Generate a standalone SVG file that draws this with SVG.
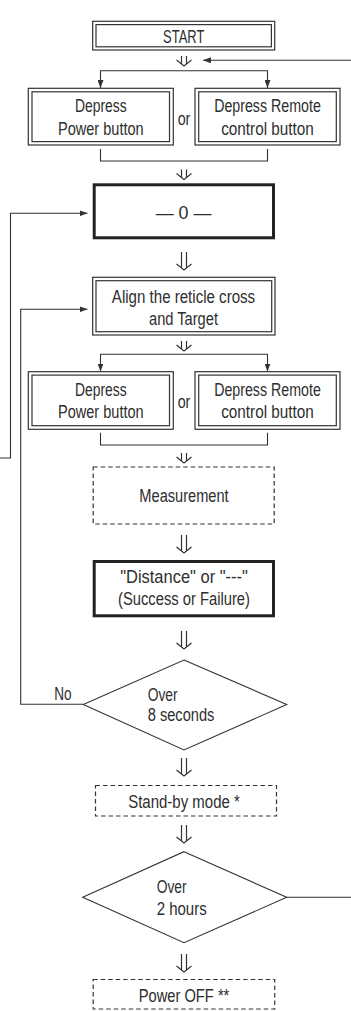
<svg xmlns="http://www.w3.org/2000/svg" xmlns:xlink="http://www.w3.org/1999/xlink" width="351" height="1011" viewBox="0 0 351 1011">
<style>
.bx{fill:#fff;stroke:#333;stroke-width:1.2}
.thick{fill:#fff;stroke:#222;stroke-width:3}
.dash{fill:#fff;stroke:#333;stroke-width:1.2;stroke-dasharray:4.5 3}
.dia{fill:#fff;stroke:#333;stroke-width:1.1}
.ln{fill:none;stroke:#333;stroke-width:1.1}
.dar{fill:none;stroke:#333;stroke-width:1.2}
text{font-family:"Liberation Sans",Arial,sans-serif;font-size:17.5px;fill:#2e2e2e}
.c{text-anchor:middle}
</style>
<defs>
<marker id="ah" viewBox="0 0 8 6" refX="8" refY="3" markerWidth="8" markerHeight="6" markerUnits="userSpaceOnUse" orient="auto">
<path d="M0,0 L8,3 L0,6 Z" fill="#333"/>
</marker>
<path id="ds" d="M-2.5,0V8 M2.5,0V8 M-7.5,4 L0,10 L7.5,4"/>
<path id="dl" d="M-2.5,0V16 M2.5,0V16 M-7.5,12 L0,18 L7.5,12"/>
</defs>

<g id="connectors">
<use xlink:href="#ds" class="dar" x="184" y="56"/>
<use xlink:href="#ds" class="dar" x="184" y="169.5"/>
<use xlink:href="#dl" class="dar" x="184" y="252"/>
<use xlink:href="#ds" class="dar" x="184" y="341"/>
<use xlink:href="#ds" class="dar" x="184" y="453"/>
<use xlink:href="#dl" class="dar" x="184" y="535"/>
<use xlink:href="#dl" class="dar" x="184" y="631"/>
<use xlink:href="#dl" class="dar" x="184" y="758"/>
<use xlink:href="#dl" class="dar" x="184" y="825"/>
<use xlink:href="#dl" class="dar" x="184" y="954"/>
<path class="ln" d="M184,70.7 H100.5 V88" marker-end="url(#ah)"/>
<path class="ln" d="M184,70.7 H267.5 V88" marker-end="url(#ah)"/>
<path class="ln" d="M100.5,149 V161 H267.5 V149"/>
<path class="ln" d="M184,354.3 H100.5 V371.5" marker-end="url(#ah)"/>
<path class="ln" d="M184,354.3 H267.5 V371.5" marker-end="url(#ah)"/>
<path class="ln" d="M100.5,432.7 V445 H267.5 V432.7"/>
<path class="ln" d="M-2,458 H10.5 V213.3 H87.5" marker-end="url(#ah)"/>
<path class="ln" d="M83.3,704.3 H20.7 V309.3 H87.5" marker-end="url(#ah)"/>
<path class="ln" d="M286.7,897.3 H353 V60.3 H203" marker-end="url(#ah)"/>
<text x="63" y="700" class="c" textLength="17.3" lengthAdjust="spacingAndGlyphs">No</text>
</g>

<g id="start">
<rect class="bx" x="92.7" y="21.3" width="182" height="28.7"/>
<rect class="bx" x="96" y="24.6" width="175.4" height="22.2"/>
<text x="183.7" y="42.5" class="c" textLength="41.3" lengthAdjust="spacingAndGlyphs">START</text>
</g>

<g id="power1">
<rect class="bx" x="28.3" y="88.3" width="145" height="56.7"/>
<rect class="bx" x="32" y="91.8" width="137.5" height="49.8"/>
<text x="100.8" y="112" class="c" textLength="51.7" lengthAdjust="spacingAndGlyphs">Depress</text>
<text x="100.8" y="135" class="c" textLength="85.7" lengthAdjust="spacingAndGlyphs">Power button</text>
</g>
<g id="or1">
<text x="184" y="125" class="c" style="font-size:18.5px" textLength="12.7" lengthAdjust="spacingAndGlyphs">or</text>
</g>
<g id="remote1">
<rect class="bx" x="195" y="88.3" width="145" height="56.7"/>
<rect class="bx" x="198.7" y="91.8" width="137.6" height="49.8"/>
<text x="267.5" y="112" class="c" textLength="106.7" lengthAdjust="spacingAndGlyphs">Depress Remote</text>
<text x="267.5" y="135" class="c" textLength="92.7" lengthAdjust="spacingAndGlyphs">control button</text>
</g>

<g id="zero">
<rect class="thick" x="94.2" y="184.8" width="179.3" height="53"/>
<text x="183.5" y="219" class="c" textLength="55.7" lengthAdjust="spacingAndGlyphs">— 0 —</text>
</g>

<g id="align">
<rect class="bx" x="92.7" y="277.3" width="182.3" height="57.7"/>
<rect class="bx" x="96" y="280.7" width="175.7" height="51"/>
<text x="183.5" y="303.3" class="c" textLength="143.3" lengthAdjust="spacingAndGlyphs">Align the reticle cross</text>
<text x="183.5" y="325" class="c" textLength="69" lengthAdjust="spacingAndGlyphs">and Target</text>
</g>

<g id="power2">
<rect class="bx" x="28.3" y="371.7" width="145" height="57.6"/>
<rect class="bx" x="32" y="375.1" width="137.5" height="50.6"/>
<text x="100.8" y="396" class="c" textLength="51.7" lengthAdjust="spacingAndGlyphs">Depress</text>
<text x="100.8" y="418.3" class="c" textLength="85.7" lengthAdjust="spacingAndGlyphs">Power button</text>
</g>
<g id="or2">
<text x="184" y="408" class="c" style="font-size:18.5px" textLength="12.7" lengthAdjust="spacingAndGlyphs">or</text>
</g>
<g id="remote2">
<rect class="bx" x="195" y="371.7" width="145" height="57.6"/>
<rect class="bx" x="198.7" y="375.1" width="137.6" height="50.6"/>
<text x="267.5" y="396" class="c" textLength="106.7" lengthAdjust="spacingAndGlyphs">Depress Remote</text>
<text x="267.5" y="418.3" class="c" textLength="92.7" lengthAdjust="spacingAndGlyphs">control button</text>
</g>

<g id="measurement">
<rect class="dash" x="93.2" y="467" width="181" height="57"/>
<text x="184" y="501.7" class="c" textLength="89.3" lengthAdjust="spacingAndGlyphs">Measurement</text>
</g>

<g id="distance">
<rect class="thick" x="94.2" y="561.5" width="179.3" height="54.3"/>
<text x="184" y="582.7" class="c" textLength="127.7" lengthAdjust="spacingAndGlyphs">"Distance" or "---"</text>
<text x="184" y="605" class="c" textLength="132" lengthAdjust="spacingAndGlyphs">(Success or Failure)</text>
</g>

<g id="over8">
<polygon class="dia" points="184,660 286.7,704.5 184,750 83.3,704.5"/>
<text x="147.7" y="700.7" textLength="30" lengthAdjust="spacingAndGlyphs">Over</text>
<text x="147.7" y="721" textLength="66.7" lengthAdjust="spacingAndGlyphs">8 seconds</text>
</g>

<g id="standby">
<rect class="dash" x="95.5" y="785.5" width="181" height="30.5"/>
<text x="184" y="807.5" class="c" textLength="111.7" lengthAdjust="spacingAndGlyphs">Stand-by mode *</text>
</g>

<g id="over2h">
<polygon class="dia" points="184,851.7 286.7,897.3 184,942.7 82.7,897.3"/>
<text x="156.7" y="892.5" textLength="30" lengthAdjust="spacingAndGlyphs">Over</text>
<text x="156.7" y="915" textLength="50" lengthAdjust="spacingAndGlyphs">2 hours</text>
</g>

<g id="poweroff">
<rect class="dash" x="93.2" y="979.5" width="181.5" height="29.5"/>
<text x="184" y="1001.5" class="c" textLength="90.7" lengthAdjust="spacingAndGlyphs">Power OFF **</text>
</g>
</svg>
